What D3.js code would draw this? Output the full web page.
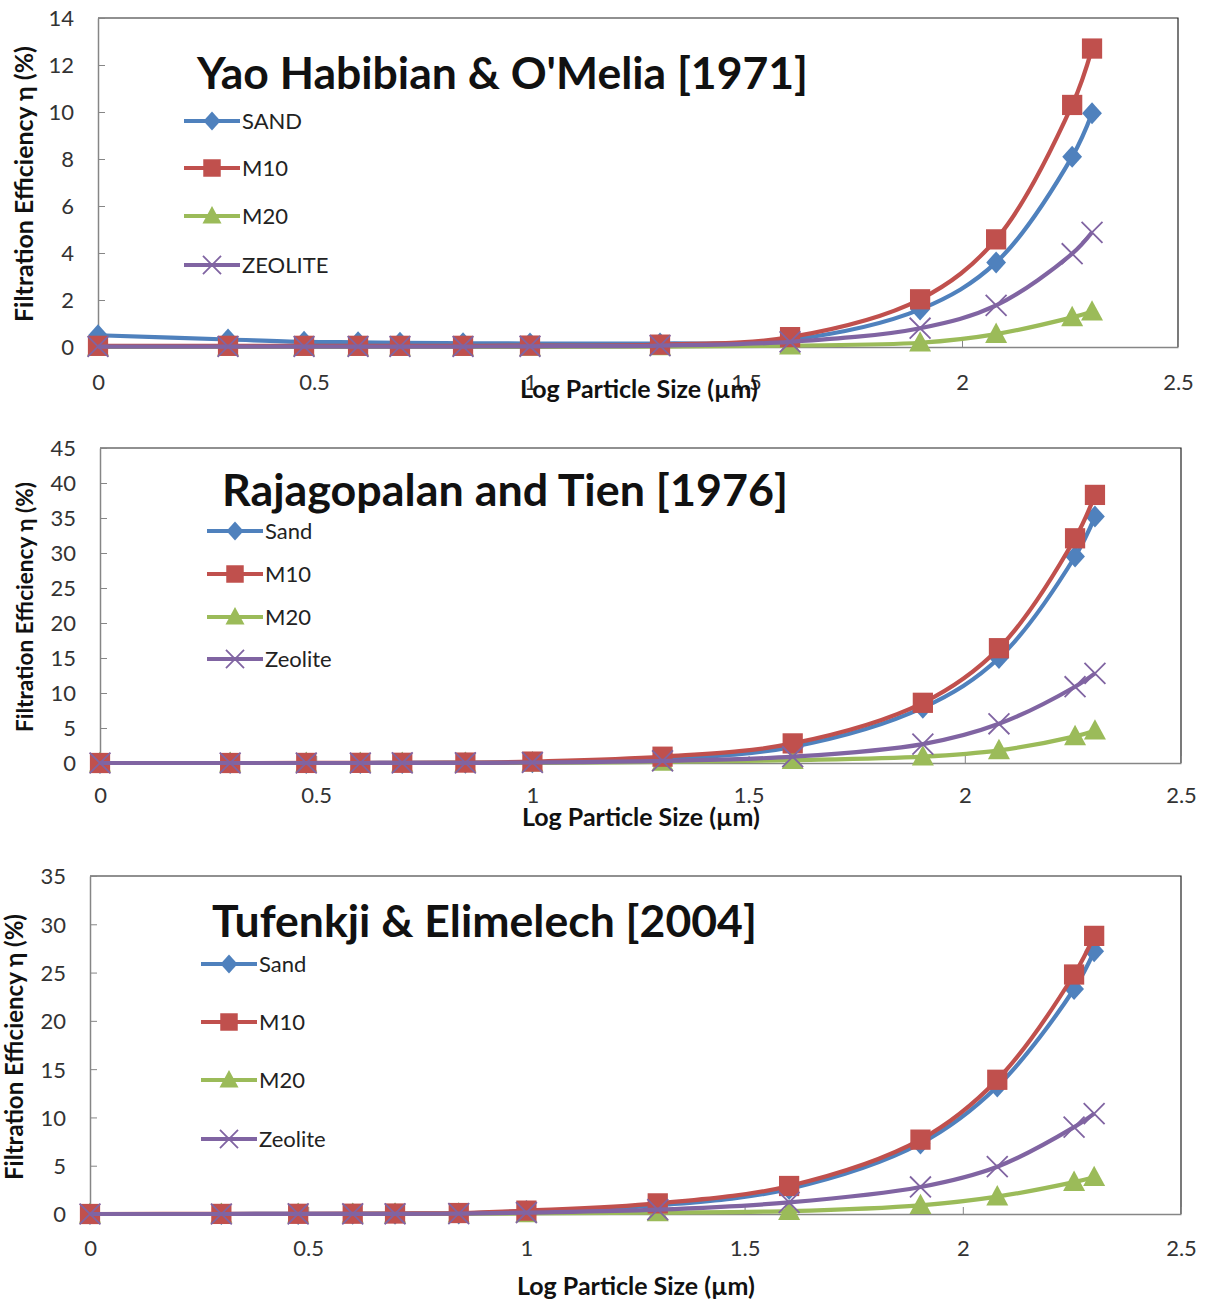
<!DOCTYPE html>
<html>
<head>
<meta charset="utf-8">
<script src="https://cdn.jsdelivr.net/npm/d3@7"></script>
<style>
  html, body { margin: 0; padding: 0; background: #fff; }
  svg { display: block; font-family: Lato, "Open Sans", sans-serif; }
</style>
</head>
<body>
<script>
// Log10 of particle size (1, 2, 3, 4, 5, 7, 10, 20, 40, 80, 120, 180, 200 µm)
const logSizes = [0, 0.301, 0.477, 0.602, 0.699, 0.845, 1, 1.301, 1.602, 1.903, 2.079, 2.255, 2.301];
const xTickValues = [0, 0.5, 1, 1.5, 2, 2.5];

const chartTitles = ["Yao Habibian & O'Melia [1971]", "Rajagopalan and Tien [1976]", "Tufenkji & Elimelech [2004]"];
const mediaNamesUpper = ["SAND", "M10", "M20", "ZEOLITE"];
const mediaNames = ["Sand", "M10", "M20", "Zeolite"];
const xAxisTitle = "Log Particle Size (µm)";
const yAxisTitle = "Filtration Efficiency η (%)";

// Filtration efficiency η (%) — Yao, Habibian & O'Melia (1971)
const yaoSand    = [0.50, 0.32, 0.22, 0.20, 0.18, 0.16, 0.15, 0.15, 0.30, 1.60, 3.60, 8.10, 9.95];
const yaoM10     = [0.05, 0.05, 0.05, 0.05, 0.05, 0.05, 0.06, 0.10, 0.42, 2.03, 4.58, 10.3, 12.7];
const yaoM20     = [0.00, 0.00, 0.00, 0.00, 0.00, 0.00, 0.00, 0.02, 0.06, 0.18, 0.55, 1.26, 1.50];
const yaoZeolite = [0.02, 0.02, 0.02, 0.02, 0.02, 0.02, 0.03, 0.06, 0.22, 0.80, 1.77, 3.97, 4.88];

// Rajagopalan & Tien (1976)
const rtSand    = [0.00, 0.00, 0.00, 0.00, 0.01, 0.03, 0.10, 0.60, 2.30, 7.90, 15.0, 29.5, 35.2];
const rtM10     = [0.00, 0.00, 0.01, 0.02, 0.03, 0.06, 0.20, 0.90, 2.80, 8.60, 16.4, 32.1, 38.3];
const rtM20     = [0.00, 0.00, 0.00, 0.00, 0.00, 0.01, 0.03, 0.15, 0.40, 0.90, 1.80, 3.80, 4.60];
const rtZeolite = [0.00, 0.00, 0.00, 0.00, 0.01, 0.02, 0.07, 0.30, 0.90, 2.70, 5.60, 10.9, 12.8];

// Tufenkji & Elimelech (2004)
const teSand    = [0.00, 0.00, 0.01, 0.02, 0.03, 0.06, 0.30, 0.90, 2.60, 7.30, 13.2, 23.3, 27.2];
const teM10     = [0.00, 0.01, 0.02, 0.03, 0.05, 0.10, 0.35, 1.10, 2.90, 7.70, 13.9, 24.8, 28.8];
const teM20     = [0.00, 0.00, 0.00, 0.00, 0.01, 0.02, 0.05, 0.15, 0.30, 0.90, 1.80, 3.30, 3.80];
const teZeolite = [0.00, 0.00, 0.01, 0.01, 0.02, 0.04, 0.15, 0.45, 1.20, 2.80, 4.90, 9.00, 10.4];

const colors = ["#4F81BD", "#C0504D", "#9BBB59", "#8064A2"];
const markerKinds = ["diamond", "square", "triangle", "x"];

// Panel layout
const panels = [
  { title: chartTitles[0], names: mediaNamesUpper, series: [yaoSand, yaoM10, yaoM20, yaoZeolite],
    yMax: 14, yStep: 2, left: 98, right: 1178, top: 18, bottom: 347, tickY: 35,
    titleX: 197, titleBase: 89, titleW: 611,
    legX: 184, legRows: [121, 168, 216, 265],
    yTitleX: 24, yTitleY: 184, yTitleW: 276, xTitleX: 639, xTitleBase: 398, xTitleW: 238 },
  { title: chartTitles[1], names: mediaNames, series: [rtSand, rtM10, rtM20, rtZeolite],
    yMax: 45, yStep: 5, left: 100, right: 1181, top: 448, bottom: 763, tickY: 32,
    titleX: 222, titleBase: 506, titleW: 566,
    legX: 207, legRows: [531, 574, 617, 659],
    yTitleX: 25, yTitleY: 607, yTitleW: 250, xTitleX: 641, xTitleBase: 826, xTitleW: 238 },
  { title: chartTitles[2], names: mediaNames, series: [teSand, teM10, teM20, teZeolite],
    yMax: 35, yStep: 5, left: 90, right: 1181, top: 876, bottom: 1214, tickY: 34,
    titleX: 212, titleBase: 937, titleW: 545,
    legX: 201, legRows: [964, 1022, 1080, 1139],
    yTitleX: 15, yTitleY: 1047, yTitleW: 266, xTitleX: 636, xTitleBase: 1295, xTitleW: 238 }
];

const svg = d3.select("body").append("svg").attr("width", 1205).attr("height", 1304);
svg.append("rect").attr("width", 1205).attr("height", 1304).attr("fill", "#fff");

// Scale a text element's font size so it spans the given width
function fitWidth(sel, w) {
  const len = sel.node().getComputedTextLength();
  const fs = parseFloat(sel.attr("font-size"));
  sel.attr("font-size", (fs * w / len).toFixed(2));
}

function drawMarker(g, kind, color, cx, cy, s) {
  const m = g.append("g").attr("transform", `translate(${cx},${cy})`);
  if (kind === "diamond") {
    m.append("path").attr("d", `M0,${-s}L${s * 0.9},0L0,${s}L${-s * 0.9},0Z`).attr("fill", color);
  } else if (kind === "square") {
    const h = s * 0.92;
    m.append("rect").attr("x", -h).attr("y", -h).attr("width", 2 * h).attr("height", 2 * h).attr("fill", color);
  } else if (kind === "triangle") {
    m.append("path").attr("d", `M0,${-s * 1.05}L${s},${s * 0.8}L${-s},${s * 0.8}Z`).attr("fill", color);
  } else {
    const h = s * 0.95;
    m.append("path").attr("d", `M${-h},${-h}L${h},${h}M${-h},${h}L${h},${-h}`)
      .attr("stroke", color).attr("stroke-width", 1.8).attr("fill", "none");
  }
}

panels.forEach(p => {
  const x = d3.scaleLinear().domain([0, 2.5]).range([p.left, p.right]);
  const y = d3.scaleLinear().domain([0, p.yMax]).range([p.bottom, p.top]);
  const g = svg.append("g");

  // plot-area frame (top and right)
  g.append("path").attr("d", `M${p.left},${p.top}H${p.right}V${p.bottom}`)
    .attr("fill", "none").attr("stroke", "#222").attr("stroke-width", 1.2);

  // y axis
  const yAxis = d3.axisLeft(y).tickValues(d3.range(0, p.yMax + 0.001, p.yStep))
    .tickSizeInner(-7).tickSizeOuter(0).tickPadding(24).tickFormat(d3.format("d"));
  const ya = g.append("g").attr("transform", `translate(${p.left},0)`).call(yAxis);
  ya.select(".domain").attr("stroke", "#868686").attr("stroke-width", 1.5);
  ya.selectAll(".tick line").attr("stroke", "#868686");
  ya.selectAll(".tick text").attr("font-size", 22).attr("font-family", "Lato").attr("fill", "#333").attr("dy", "0.36em");

  // x axis
  const xAxis = d3.axisBottom(x).tickValues(xTickValues)
    .tickSizeInner(-7).tickSizeOuter(0).tickFormat(d => String(d));
  const xa = g.append("g").attr("transform", `translate(0,${p.bottom})`).call(xAxis);
  xa.select(".domain").attr("stroke", "#868686").attr("stroke-width", 1.5);
  xa.selectAll(".tick line").attr("stroke", "#868686");
  xa.selectAll(".tick text").attr("font-size", 22).attr("font-family", "Lato").attr("fill", "#333")
    .attr("y", p.tickY).attr("dy", "0.36em");

  // series: lines + markers (M20 beneath M10, Zeolite on top)
  const line = d3.line().x(d => x(d[0])).y(d => y(d[1])).curve(d3.curveCatmullRom.alpha(0.5));
  [0, 2, 1, 3].forEach(i => {
    const pts = logSizes.map((lx, k) => [lx, p.series[i][k]]);
    const sg = g.append("g");
    sg.append("path").attr("d", line(pts)).attr("fill", "none")
      .attr("stroke", colors[i]).attr("stroke-width", 4.2).attr("stroke-linejoin", "round");
    pts.forEach(d => drawMarker(sg, markerKinds[i], colors[i], x(d[0]), y(d[1]), 11));
  });

  // legend
  p.names.forEach((name, i) => {
    const cy = p.legRows[i];
    const lg = g.append("g");
    lg.append("line").attr("x1", p.legX).attr("x2", p.legX + 56).attr("y1", cy).attr("y2", cy)
      .attr("stroke", colors[i]).attr("stroke-width", 4.2);
    drawMarker(lg, markerKinds[i], colors[i], p.legX + 28, cy, 9.5);
    lg.append("text").attr("x", p.legX + 58).attr("y", cy).attr("dy", "0.36em")
      .attr("font-size", 22).attr("font-family", "Lato").attr("fill", "#222").text(name);
  });

  // chart title
  const t = g.append("text").attr("x", p.titleX).attr("y", p.titleBase)
    .attr("font-size", 40).attr("font-weight", "bold").attr("font-family", "Lato").attr("fill", "#111").text(p.title);
  fitWidth(t, p.titleW);

  // axis titles
  const xt = g.append("text").attr("x", p.xTitleX).attr("y", p.xTitleBase).attr("text-anchor", "middle")
    .attr("font-size", 21).attr("font-weight", "bold").attr("font-family", "Lato").attr("fill", "#111").text(xAxisTitle);
  fitWidth(xt, p.xTitleW);
  const yt = g.append("text").attr("transform", `translate(${p.yTitleX},${p.yTitleY}) rotate(-90)`)
    .attr("text-anchor", "middle").attr("dy", "0.35em")
    .attr("font-size", 21).attr("font-weight", "bold").attr("font-family", "Lato").attr("fill", "#111").text(yAxisTitle);
  fitWidth(yt, p.yTitleW);
});
</script>
</body>
</html>
